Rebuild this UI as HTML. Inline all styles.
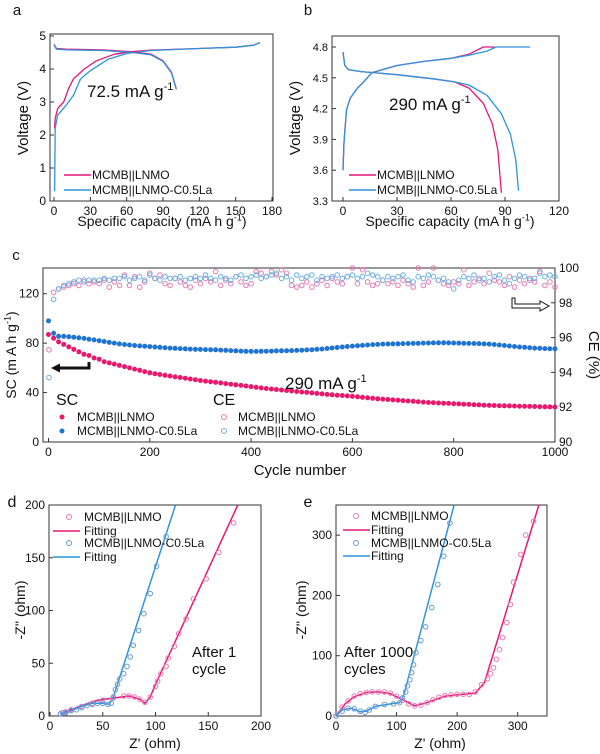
<!DOCTYPE html>
<html><head><meta charset="utf-8"><style>
html,body{margin:0;padding:0;background:#fff;}
svg{display:block;font-family:"Liberation Sans",Arial,sans-serif;}
</style></head><body>
<svg id="fig" width="600" height="754" viewBox="0 0 600 754" xmlns="http://www.w3.org/2000/svg"></svg>
<script>
// ---------- Panel a data ----------
const aCatCharge1 = [0.5,1,3,8,12,16,25,35,50,65,80,120,150,165,170];
const aValCharge1 = [2.2,2.5,2.8,3.0,3.4,3.7,4.0,4.25,4.45,4.53,4.57,4.62,4.66,4.72,4.8];
const aCatCharge2 = [0.5,0.8,1,3,10,16,22,30,45,60,70,80,120,150,165,170];
const aValCharge2 = [0.3,1.5,2.2,2.6,2.9,3.2,3.7,3.95,4.3,4.47,4.52,4.56,4.62,4.66,4.72,4.8];
const aCatDis = [0,2,10,40,65,80,90,97,101];
const aValDis = [4.75,4.62,4.6,4.58,4.52,4.45,4.25,3.9,3.4];
const aXTicks = [0,30,60,90,120,150,180];
const aYTicks = [0,1,2,3,4,5];
// ---------- Panel b data ----------
const bCatCh1 = [0,0.5,1,2,4,8,11,16,30,45,60,70,78,84];
const bValCh1 = [3.6,3.85,3.98,4.19,4.3,4.4,4.45,4.55,4.62,4.66,4.69,4.73,4.8,4.8];
const bCatCh2 = [0,0.5,1,2,4,8,11,16,30,45,60,70,80,85,104];
const bValCh2 = [3.6,3.85,3.98,4.19,4.3,4.4,4.45,4.55,4.62,4.66,4.69,4.72,4.76,4.8,4.8];
const bCatDis1 = [0,1,3,10,30,50,62,70,78,83,86,88];
const bValDis1 = [4.75,4.62,4.58,4.56,4.53,4.49,4.46,4.4,4.25,4.05,3.8,3.38];
const bCatDis2 = [0,1,3,10,30,50,62,70,80,88,93,96,97.5];
const bValDis2 = [4.75,4.62,4.58,4.56,4.53,4.49,4.46,4.43,4.33,4.15,3.95,3.7,3.4];
const bXTicks = [0,30,60,90,120];
const bYTicks = [3.3,3.6,3.9,4.2,4.5,4.8];
// ---------- Panel c data (cycles 0..1000, every 10) ----------
const scLnmo = [87,84,81,79,77,75,73,71,70,68,67,65,64,63,62,61,60,59,58,57,56,55.3,54.6,54,53.4,52.8,52.2,51.6,51,50.4,49.8,49.3,48.8,48.3,47.8,47.3,46.8,46.3,45.8,45.3,44.8,44.3,43.8,43.3,42.9,42.5,42.1,41.7,41.3,40.9,40.5,40.1,39.7,39.3,38.9,38.5,38.2,37.9,37.6,37.3,37,36.6,36.2,35.8,35.4,35,34.7,34.4,34.1,33.8,33.5,33.2,32.9,32.6,32.3,32,31.8,31.6,31.4,31.2,31,30.8,30.6,30.4,30.2,30,29.8,29.6,29.5,29.4,29.3,29.2,29.1,29,28.9,28.8,28.7,28.6,28.5,28.4,28.3];
const scLa = [98,88,85.5,85.5,85.2,84.8,84.3,83.8,83.2,82.6,82,81.3,80.6,80,79.4,78.9,78.5,78.1,77.8,77.5,77.2,76.9,76.6,76.3,76,75.8,75.6,75.4,75.2,75,74.9,74.8,74.7,74.6,74.4,74.2,74,73.8,73.6,73.4,73.3,73.3,73.4,73.5,73.6,73.7,73.8,73.9,74,74.1,74.3,74.5,74.7,75,75.3,75.7,76.1,76.5,76.9,77.3,77.6,77.9,78.2,78.5,78.8,79,79.2,79.3,79.4,79.5,79.6,79.7,79.8,79.9,80,80.1,80.2,80.3,80.3,80.2,80.1,80,79.9,79.8,79.7,79.6,79.4,79.2,78.9,78.5,78.1,77.7,77.3,76.9,76.6,76.3,76,75.8,75.6,75.5,75.4];
const ceLnmo = [95.3,98.6,98.8,98.9,99.0,99.1,99.0,99.3,99.1,99.2,99.1,99.3,98.9,99.2,99.0,99.6,99.0,99.5,98.9,99.2,99.7,99.4,99.6,99.1,99.0,99.4,99.2,99.0,98.9,99.3,99.1,99.4,99.2,99.8,99.0,99.3,99.1,99.5,99.2,99.0,99.1,99.8,99.7,99.5,99.8,99.6,99.9,99.7,99.0,98.9,99.0,99.2,98.9,99.1,99.3,99.0,99.4,99.2,99.1,99.5,100.0,99.1,99.9,99.2,99.0,99.1,99.3,99.1,99.2,99.0,99.3,99.1,98.9,100.0,99.0,99.2,100.0,99.3,99.1,99.0,99.2,99.1,99.9,99.0,99.2,99.4,99.1,99.7,99.3,99.2,99.0,99.5,98.9,99.3,99.1,99.4,99.2,99.8,99.0,99.2,98.9];
const ceLa = [93.7,98.2,98.8,99.0,99.1,99.2,99.3,99.2,99.3,99.3,99.3,99.4,99.3,99.4,99.4,99.5,99.3,99.4,99.5,99.3,99.6,99.4,99.3,99.5,99.4,99.4,99.5,99.3,99.4,99.5,99.4,99.6,99.4,99.3,99.5,99.4,99.3,99.5,99.6,99.4,99.5,99.6,99.4,99.5,99.6,99.7,99.4,99.5,99.3,99.6,99.4,99.5,99.6,99.3,99.5,99.4,99.5,99.6,99.4,99.5,99.6,99.4,99.5,99.7,99.6,99.5,99.3,99.5,99.4,99.5,99.6,99.3,99.2,99.5,99.4,99.6,99.5,99.3,99.4,99.2,98.8,99.3,99.5,99.4,99.6,99.3,99.4,99.2,99.5,99.6,99.3,99.1,99.4,99.6,99.5,99.3,99.4,99.7,99.5,99.6,99.5];
const cXTicks = [0,200,400,600,800,1000];
const cYTicks = [0,40,80,120];
const cY2Ticks = [90,92,94,96,98,100];
// ---------- Panel d data ----------
const dLnmoX = [10,15,20,30,40,50,60,70,75,80,85,90,95,100,102,105,110,112,118,122,129,136,148,160,174];
const dLnmoY = [2,4,6,9,12,15,17,19,19,18,16,13,18,28,33,40,47,55,66,78,92,111,130,155,183];
const dLaX = [10,12,15,20,25,30,35,40,45,50,55,58,60,62,64,66,70,73,76,79,84,89,95,101,110];
const dLaY = [2,3,3,5,6,8,10,11,12,12,11,12,18,25,30,35,40,47,56,67,81,97,116,142,170];
const dFitLnmoX = [10,20,30,45,60,75,85,90,95,100,178];
const dFitLnmoY = [2,6,10,15,17,19,16,12,18,30,200];
const dFitLaX = [10,20,30,40,50,56,60,119];
const dFitLaY = [1,5,9,12,12,11,18,200];
const dXTicks = [0,50,100,150,200];
const dYTicks = [0,50,100,150,200];
// ---------- Panel e data ----------
const eLnmoX = [0,10,20,30,40,50,60,70,80,90,100,110,120,130,140,150,160,170,180,190,200,210,220,230,240,250,255,260,265,270,275,282,288,293,305,313,326];
const eLnmoY = [0,15,25,33,37,39,40,40,40,38,33,26,20,17,18,22,27,31,34,35,36,36,36,40,52,62,70,80,94,110,130,155,185,222,268,300,323];
const eLaX = [0,10,20,30,40,48,55,65,80,95,105,110,115,118,122,125,128,132,140,148,158,168,178,188];
const eLaY = [0,8,13,12,8,6,10,16,19,20,22,30,40,50,60,72,85,105,125,148,180,218,265,320];
const eFitLnmoX = [0,15,30,50,70,90,110,130,150,180,210,230,245,335];
const eFitLnmoY = [0,20,32,39,40,37,27,17,22,33,36,38,55,350];
const eFitLaX = [0,10,25,40,50,65,90,105,112,195];
const eFitLaY = [0,10,13,7,8,16,20,22,35,350];
const eXTicks = [0,100,200,300];
const eYTicks = [0,100,200,300];

const PINK='#e5177a', BLUE='#2d95dc', PINKM='#e6196f', BLUEM='#1f74cf', PINKO='#e67ab3', BLUEO='#6ab0df';
const svg=document.getElementById('fig');
const NS='http://www.w3.org/2000/svg';
function mk(tag,attrs,parent){const e=document.createElementNS(NS,tag);for(const k in attrs)e.setAttribute(k,attrs[k]);(parent||svg).appendChild(e);return e;}
function txt(s,x,y,size,anchor,name,parent,extra){const t=mk('text',Object.assign({x:x,y:y,'font-size':size,'text-anchor':anchor||'middle',fill:'#111'},extra||{}),parent);t.textContent=s;


return t;}
function supTxt(main,sup,after,x,y,size,anchor,name,rot){const t=mk('text',{x:x,y:y,'font-size':size,'text-anchor':anchor,fill:'#111'});if(rot)t.setAttribute('transform',rot);


const a=mk('tspan',{},t);a.textContent=main;const b=mk('tspan',{dy:-size*0.4,'font-size':size*0.65},t);b.textContent=sup;const c=mk('tspan',{dy:size*0.4},t);c.textContent=after;return t;}
function scale(d0,d1,r0,r1){return v=>r0+(v-d0)/(d1-d0)*(r1-r0);}
function frame(x0,y0,x1,y1,name){const r=mk('rect',{x:x0,y:y0,width:x1-x0,height:y1-y0,fill:'none',stroke:'#333','stroke-width':1});

}
function xticks(ticks,sx,yb,name,size){const g=mk('g',{});


ticks.forEach(t=>{mk('line',{x1:sx(t),x2:sx(t),y1:yb,y2:yb-4,stroke:'#333'},g);txt(String(t),sx(t),yb+14,size||12,'middle','x-tick-label',g);});}
function yticks(ticks,sy,xl,name,right,fmt,size){const g=mk('g',{});


ticks.forEach(t=>{const d=right?-4:4;mk('line',{x1:xl,x2:xl+d,y1:sy(t),y2:sy(t),stroke:'#333'},g);txt(fmt?fmt(t):String(t),right?xl+4:xl-4,sy(t)+4,size||12,right?'start':'end','y-tick-label',g);});}
function line(xs,ys,sx,sy,color,name,w){const p=xs.map((x,i)=>sx(x).toFixed(1)+','+sy(ys[i]).toFixed(1)).join(' ');const e=mk('polyline',{points:p,fill:'none',stroke:color,'stroke-width':w||1.3,'stroke-linejoin':'round'});

}
function dots(xs,ys,sx,sy,color,r,filled,name){const g=mk('g',{});


xs.forEach((x,i)=>{const c=mk('circle',{cx:sx(x).toFixed(1),cy:sy(ys[i]).toFixed(1),r:r,fill:filled?color:'none',stroke:color,'stroke-width':filled?0:1},g);

});}
function legLine(x,y,color,label,name,tx,size){const g=mk('g',{});


mk('line',{x1:x,x2:x+27,y1:y,y2:y,stroke:color,'stroke-width':1.5},g);txt(label,tx||x+31,y+4,size||12,'start','legend-label',g);}
function legDot(x,y,color,filled,label,name,tx,size){const g=mk('g',{});


mk('circle',{cx:x,cy:y,r:2.5,fill:filled?color:'none',stroke:color,'stroke-width':filled?0:1},g);txt(label,tx||x+14,y+4,size||12,'start','legend-label',g);}

// ===== Panel a =====
txt('a',17,15,15,'middle','panel-label-a');
{const sx=scale(0,180,54,272), sy=scale(0,5,201,36);
frame(50,34,273,201,'plot-frame-a');
xticks(aXTicks,sx,201,'x-axis-a');yticks(aYTicks,sy,50,'y-axis-a');
line(aCatCharge1,aValCharge1,sx,sy,PINK,'charge-curve-lnmo');
line(aCatCharge2,aValCharge2,sx,sy,BLUE,'charge-curve-la');
line(aCatDis,aValDis,sx,sy,PINK,'discharge-curve-lnmo');
line(aCatDis,aValDis.map(v=>v-0.02),sx,sy,BLUE,'discharge-curve-la');
supTxt('72.5 mA g','-1','',87,97,17,'start','rate-label-a');
legLine(64,175,PINK,'MCMB||LNMO','legend-entry-lnmo',92);legLine(64,190,BLUE,'MCMB||LNMO-C0.5La','legend-entry-la',92);
txt('Voltage (V)',0,0,15,'middle','y-axis-title-a',null,{transform:'translate(28,118) rotate(-90)'});
supTxt('Specific capacity (mA h g','-1',')',162,226,14,'middle','x-axis-title-a');}

// ===== Panel b =====
txt('b',308,15,15,'middle','panel-label-b');
{const sx=scale(0,120,343,559), sy=scale(3.3,4.8,201,47);
frame(332,36,559,201,'plot-frame-b');
xticks(bXTicks,sx,201,'x-axis-b');yticks(bYTicks,sy,332,'y-axis-b',false,v=>v.toFixed(1),11);
line(bCatCh1,bValCh1,sx,sy,PINK,'charge-curve-lnmo-b');
line(bCatCh2,bValCh2,sx,sy,BLUE,'charge-curve-la-b');
line(bCatDis1,bValDis1,sx,sy,PINK,'discharge-curve-lnmo-b');
line(bCatDis2,bValDis2,sx,sy,BLUE,'discharge-curve-la-b');
supTxt('290 mA g','-1','',389,110,17,'start','rate-label-b');
legLine(349,175,PINK,'MCMB||LNMO','legend-entry-lnmo-b',377);legLine(349,190,BLUE,'MCMB||LNMO-C0.5La','legend-entry-la-b',377);
txt('Voltage (V)',0,0,15,'middle','y-axis-title-b',null,{transform:'translate(300,118) rotate(-90)'});
supTxt('Specific capacity (mA h g','-1',')',450,226,14,'middle','x-axis-title-b');}

// ===== Panel c =====
txt('c',16,260,15,'middle','panel-label-c');
{const sx=scale(0,1000,48.5,555), sy=scale(0,140,442,269), sy2=scale(90,100,442,268);
frame(43,268,555,442,'plot-frame-c');
xticks(cXTicks,sx,442,'x-axis-c');yticks(cYTicks,sy,43,'y-axis-left-c');yticks(cY2Ticks,sy2,555,'y-axis-right-c',true);
const cyc=scLnmo.map((v,i)=>i*1000/(scLnmo.length-1));
const cyc2=scLa.map((v,i)=>i*1000/(scLa.length-1));
const cyc3=ceLnmo.map((v,i)=>Math.max(1,i*1000/(ceLnmo.length-1)));
const cyc4=ceLa.map((v,i)=>Math.max(1,i*1000/(ceLa.length-1)));
dots(cyc3,ceLnmo,sx,sy2,PINKO,2.3,false,'ce-series-lnmo');
dots(cyc4,ceLa,sx,sy2,BLUEO,2.3,false,'ce-series-la');
dots(cyc2,scLa,sx,sy,BLUEM,2.5,true,'sc-series-la');
dots(cyc,scLnmo,sx,sy,PINKM,2.5,true,'sc-series-lnmo');
supTxt('290 mA g','-1','',285,389,17,'start','rate-label-c');
txt('SC',56,405,16,'start','legend-title-sc');txt('CE',213,405,16,'start','legend-title-ce');
legDot(62,417,PINKM,true,'MCMB||LNMO','legend-sc-lnmo',77);legDot(62,431,BLUEM,true,'MCMB||LNMO-C0.5La','legend-sc-la',77);
legDot(224,417,PINKO,false,'MCMB||LNMO','legend-ce-lnmo',238);legDot(224,431,BLUEO,false,'MCMB||LNMO-C0.5La','legend-ce-la',238);
const ar=mk('path',{d:'M89,362 L89,368 L60,368',fill:'none',stroke:'#111','stroke-width':3});


const ah=mk('path',{d:'M51,368 L60,363.5 L60,372.5 Z',fill:'#111'});


const ar2=mk('path',{d:'M515,298 L515,304 L540,304 L540,301 L549,306 L540,311 L540,308 L512,308 L512,298 Z',fill:'#fff',stroke:'#111','stroke-width':1});


supTxt('SC (m A h g','-1',')',0,0,14,'middle','y-axis-title-left-c','translate(16,355) rotate(-90)');
txt('CE (%)',0,0,15,'middle','y-axis-title-right-c',null,{transform:'translate(589,355) rotate(90)'});
txt('Cycle number',300,475,15,'middle','x-axis-title-c');}

// ===== Panel d =====
txt('d',12,507,16,'middle','panel-label-d');
{const sx=scale(0,200,50,261), sy=scale(0,200,716,505);
frame(49,505,261,716,'plot-frame-d');
xticks(dXTicks,sx,716,'x-axis-d');yticks(dYTicks,sy,49,'y-axis-d');
line(dFitLnmoX,dFitLnmoY,sx,sy,PINK,'fit-line-lnmo-d',1.5);
line(dFitLaX,dFitLaY,sx,sy,BLUE,'fit-line-la-d',1.5);
dots(dLnmoX,dLnmoY,sx,sy,PINKO,2.3,false,'eis-points-lnmo-d');
dots(dLaX,dLaY,sx,sy,'#6a9ad0',2.3,false,'eis-points-la-d');
legDot(69,517,PINKO,false,'MCMB||LNMO','legend-eis-lnmo-d',84);legLine(53,531,PINK,'Fitting','legend-fit-lnmo-d',84);
legDot(69,543,'#6a9ad0',false,'MCMB||LNMO-C0.5La','legend-eis-la-d',84);legLine(53,557,BLUE,'Fitting','legend-fit-la-d',84);
txt('After 1',192,657,15,'start','annotation-d');txt('cycle',192,674,15,'start','annotation-d-2');
txt("-Z'' (ohm)",0,0,14,'middle','y-axis-title-d',null,{transform:'translate(25,610) rotate(-90)'});
txt("Z' (ohm)",155,748,14,'middle','x-axis-title-d');}

// ===== Panel e =====
txt('e',308,507,16,'middle','panel-label-e');
{const sx=scale(0,350,336,548), sy=scale(0,350,716,505);
frame(336,505,547,716,'plot-frame-e');
xticks(eXTicks,sx,716,'x-axis-e');yticks(eYTicks,sy,336,'y-axis-e');
line(eFitLnmoX,eFitLnmoY,sx,sy,PINK,'fit-line-lnmo-e',1.5);
line(eFitLaX,eFitLaY,sx,sy,BLUE,'fit-line-la-e',1.5);
dots(eLnmoX,eLnmoY,sx,sy,PINKO,2.3,false,'eis-points-lnmo-e');
dots(eLaX,eLaY,sx,sy,'#6a9ad0',2.3,false,'eis-points-la-e');
legDot(356,516,PINKO,false,'MCMB||LNMO','legend-eis-lnmo-e',371);legLine(343,530,PINK,'Fitting','legend-fit-lnmo-e',371);
legDot(356,543,'#6a9ad0',false,'MCMB||LNMO-C0.5La','legend-eis-la-e',371);legLine(343,556,BLUE,'Fitting','legend-fit-la-e',371);
txt('After 1000',344,657,15,'start','annotation-e');txt('cycles',344,674,15,'start','annotation-e-2');
txt("-Z'' (ohm)",0,0,14,'middle','y-axis-title-e',null,{transform:'translate(306,610) rotate(-90)'});
txt("Z' (ohm)",440,748,14,'middle','x-axis-title-e');}
</script>
</body></html>
